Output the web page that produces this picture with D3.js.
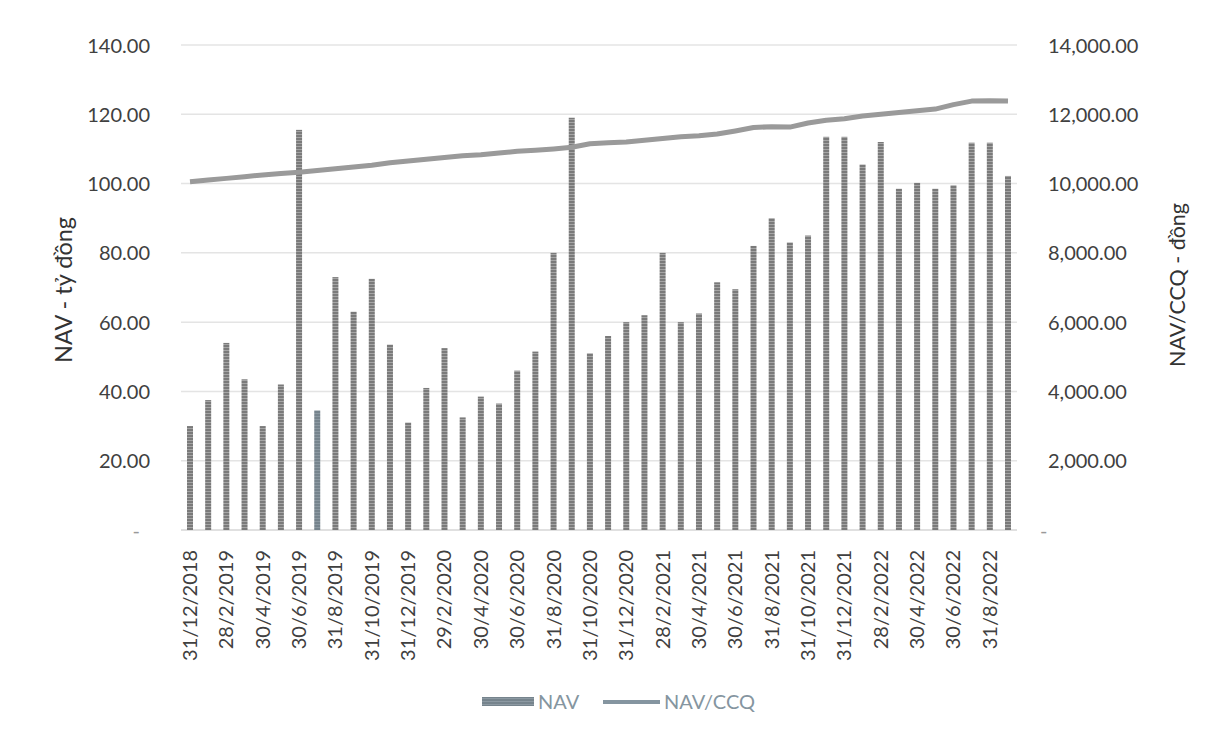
<!DOCTYPE html>
<html><head><meta charset="utf-8">
<script src="https://cdn.jsdelivr.net/npm/d3@7"></script>
<style>body{margin:0;background:#fff;}svg{display:block;}</style>
</head><body>
<svg id="c" width="1206" height="735"></svg>
<script>
const months = ["31/12/2018","31/1/2019","28/2/2019","31/3/2019","30/4/2019","31/5/2019","30/6/2019","31/7/2019","31/8/2019","30/9/2019","31/10/2019","30/11/2019","31/12/2019","31/1/2020","29/2/2020","31/3/2020","30/4/2020","31/5/2020","30/6/2020","31/7/2020","31/8/2020","30/9/2020","31/10/2020","30/11/2020","31/12/2020","31/1/2021","28/2/2021","31/3/2021","30/4/2021","31/5/2021","30/6/2021","31/7/2021","31/8/2021","30/9/2021","31/10/2021","30/11/2021","31/12/2021","31/1/2022","28/2/2022","31/3/2022","30/4/2022","31/5/2022","30/6/2022","31/7/2022","31/8/2022","30/9/2022"];
const nav = [30,37.5,54,43.5,30,42,115.5,34.5,73,63,72.5,53.5,31,41,52.5,32.5,38.5,36.5,46,51.5,80,119,51,56,60,62,80,60,62.5,71.5,69.5,82,90,83,85,113.5,113.5,105.5,112,98.5,100.2,98.5,99.5,111.8,111.8,102.2];
const navccq = [10050,10100,10150,10200,10250,10290,10330,10380,10430,10480,10530,10600,10650,10700,10750,10800,10830,10880,10930,10960,11000,11050,11150,11180,11200,11250,11300,11350,11380,11430,11520,11620,11640,11630,11750,11830,11870,11950,12000,12050,12100,12150,12280,12380,12390,12380];
const leftTicks = [0,20,40,60,80,100,120,140];
const rightTicks = [0,2000,4000,6000,8000,10000,12000,14000];

const svg = d3.select("#c");
const L = 181, R = 1017, T = 45, B = 530;
const x = d3.scaleBand().domain(months).range([L, R]).paddingInner(0.67).paddingOuter(0.33);
const yL = d3.scaleLinear().domain([0,140]).range([B,T]);
const yR = d3.scaleLinear().domain([0,14000]).range([B,T]);
const font = "Lato, 'Open Sans', sans-serif";

const defs = svg.append("defs");
const pat = defs.append("pattern").attr("id","hatch").attr("width",4).attr("height",3).attr("patternUnits","userSpaceOnUse");
pat.append("rect").attr("width",4).attr("height",3).attr("fill","#a5a5a5");
pat.append("rect").attr("width",4).attr("height",2).attr("fill","#7a7a7a");
const pat2 = defs.append("pattern").attr("id","hatch2").attr("width",4).attr("height",3).attr("patternUnits","userSpaceOnUse");
pat2.append("rect").attr("width",4).attr("height",3).attr("fill","#8c99a2");
pat2.append("rect").attr("width",4).attr("height",2).attr("fill","#76848d");

// gridlines
svg.append("g").selectAll("line").data(leftTicks.slice(1)).join("line")
  .attr("x1",L).attr("x2",R).attr("y1",d=>yL(d)).attr("y2",d=>yL(d))
  .attr("stroke","#e4e4e4").attr("stroke-width",1.5);
svg.append("line").attr("x1",L).attr("x2",R).attr("y1",B).attr("y2",B).attr("stroke","#d6d6d6").attr("stroke-width",1.5);

// left axis
const gl = svg.append("g").attr("transform",`translate(${L-28},0)`)
  .call(d3.axisLeft(yL).tickValues(leftTicks).tickSize(0).tickFormat(d=>d===0?"-":d3.format(".2f")(d)));
gl.select(".domain").remove();
gl.selectAll("text").attr("font-family",font).attr("font-size",20).attr("fill","#404040").attr("dy","0.35em");
gl.selectAll(".tick").filter(d=>d===0).select("text").attr("dx",-10).attr("fill","#999");

// right axis
const gr = svg.append("g").attr("transform",`translate(${R+28},0)`)
  .call(d3.axisRight(yR).tickValues(rightTicks).tickSize(0).tickFormat(d=>d===0?"-":d3.format(",.2f")(d)));
gr.select(".domain").remove();
gr.selectAll("text").attr("font-family",font).attr("font-size",20).attr("fill","#404040").attr("dy","0.35em");
gr.selectAll(".tick").filter(d=>d===0).select("text").attr("dx",-8).attr("fill","#999");

// bars
svg.append("g").selectAll("rect").data(nav).join("rect")
  .attr("x",(d,i)=>x(months[i])).attr("width",x.bandwidth())
  .attr("y",d=>yL(d)).attr("height",d=>B-yL(d))
  .attr("fill",(d,i)=>i===7?"url(#hatch2)":"url(#hatch)");

// line
const line = d3.line().x((d,i)=>x(months[i])+x.bandwidth()/2).y(d=>yR(d));
svg.append("path").datum(navccq).attr("d",line).attr("fill","none")
  .attr("stroke","#9a9a9a").attr("stroke-width",5).attr("stroke-linejoin","round");

// x labels
const xa = svg.append("g").attr("transform",`translate(0,${B})`)
  .call(d3.axisBottom(x).tickValues(months.filter((d,i)=>i%2===0)).tickSize(0));
xa.select(".domain").remove();
xa.selectAll("text").attr("font-family",font).attr("font-size",20).attr("fill","#404040")
  .attr("transform","rotate(-90)").attr("text-anchor","end").attr("x",-20).attr("y",0).attr("dy","0.35em");

// axis titles
function fitTitle(t, target){
  const len = t.node().getComputedTextLength();
  t.attr("font-size", 20*target/len);
}
const t1 = svg.append("text").attr("transform",`translate(64,290) rotate(-90)`).attr("text-anchor","middle").attr("dy","0.35em")
  .attr("font-family",font).attr("font-size",20).attr("fill","#333").text("NAV - tỷ đồng");
fitTitle(t1,146);
const t2 = svg.append("text").attr("transform",`translate(1177,285) rotate(-90)`).attr("text-anchor","middle").attr("dy","0.35em")
  .attr("font-family",font).attr("font-size",20).attr("fill","#333").text("NAV/CCQ - đồng");
fitTitle(t2,164);

// legend
const lg = svg.append("g");
lg.append("rect").attr("x",482).attr("y",697).attr("width",52).attr("height",9).attr("fill","url(#hatch2)");
lg.append("text").attr("x",538).attr("y",702).attr("dy","0.35em").attr("font-family",font).attr("font-size",20).attr("fill","#8595a0").text("NAV");
lg.append("line").attr("x1",603).attr("x2",660).attr("y1",702).attr("y2",702).attr("stroke","#8595a0").attr("stroke-width",4);
lg.append("text").attr("x",664).attr("y",702).attr("dy","0.35em").attr("font-family",font).attr("font-size",20).attr("fill","#8595a0").text("NAV/CCQ");
</script>
</body></html>
